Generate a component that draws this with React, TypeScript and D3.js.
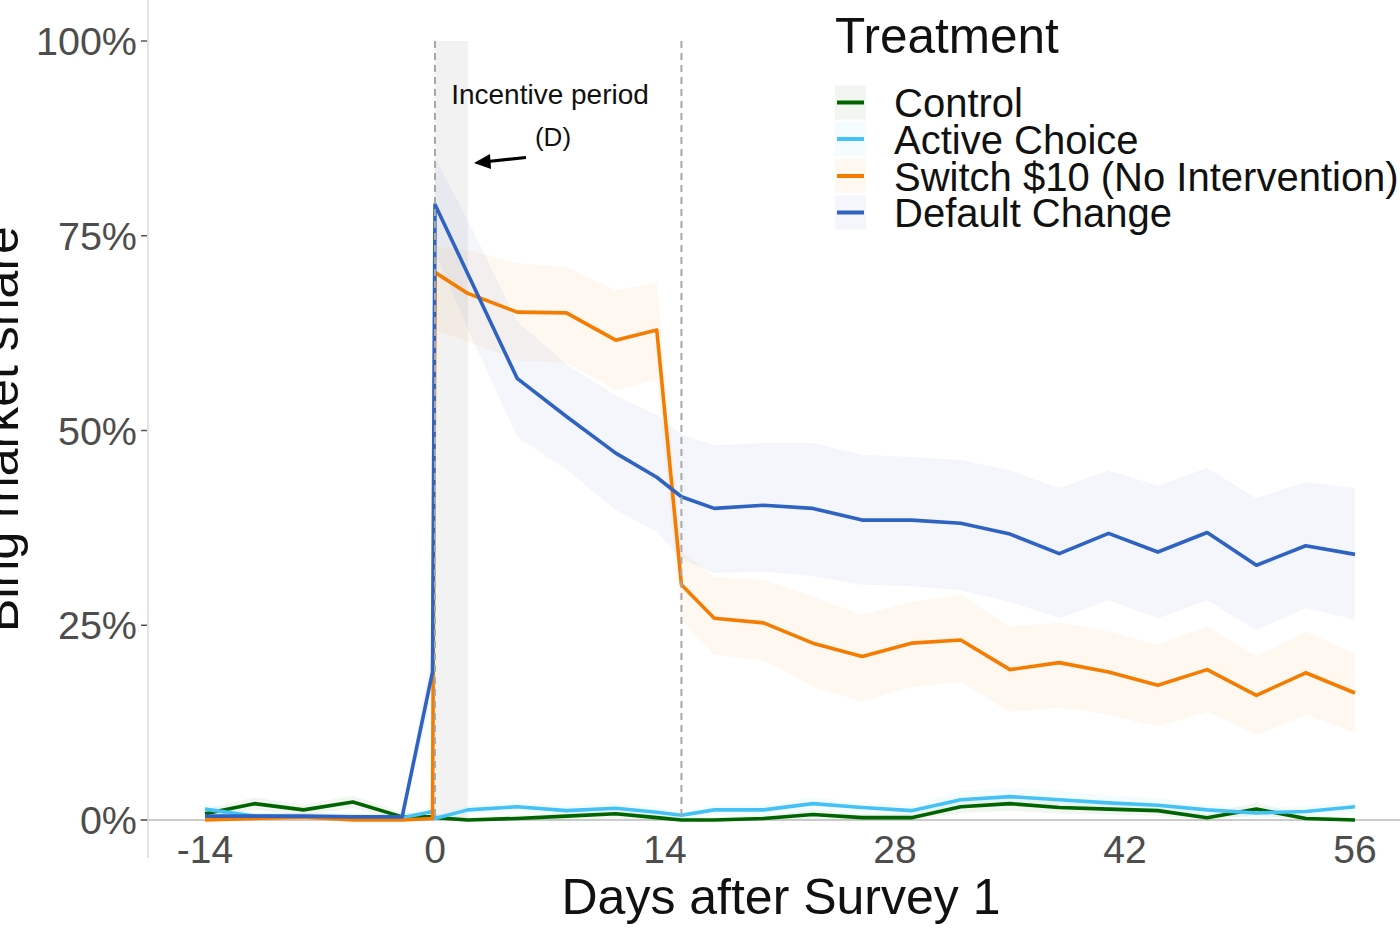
import React from "react";
import * as d3 from "d3";

// ---- data (share of Bing, %) ----
const days = [-14, -11, -8, -5, -2, -0.15, 0, 2, 5, 8, 11, 13.5, 15, 17, 20, 23, 26, 29, 32, 35, 38, 41, 44, 47, 50, 53, 56];

const controlMean = [0.8, 2.1, 1.3, 2.3, 0.4, 0.4, 0.3, 0.0, 0.2, 0.5, 0.8, 0.3, 0.0, 0.0, 0.2, 0.7, 0.3, 0.3, 1.7, 2.1, 1.6, 1.4, 1.2, 0.3, 1.4, 0.2, 0.0];
const controlLow = [0.2, 1.3, 0.6, 1.5, 0.0, 0.0, 0.0, 0.0, 0.0, 0.0, 0.2, 0.0, 0.0, 0.0, 0.0, 0.1, 0.0, 0.0, 0.9, 1.2, 0.8, 0.7, 0.5, 0.0, 0.6, 0.0, 0.0];
const controlHigh = [1.4, 2.9, 2.0, 3.1, 0.9, 0.9, 0.8, 0.4, 0.6, 1.0, 1.4, 0.8, 0.4, 0.4, 0.6, 1.3, 0.8, 0.8, 2.5, 3.0, 2.4, 2.1, 1.9, 0.8, 2.2, 0.6, 0.4];

const activeMean = [1.4, 0.5, 0.4, 0.3, 0.3, 1.1, 0.2, 1.3, 1.7, 1.2, 1.5, 1.0, 0.6, 1.3, 1.3, 2.1, 1.6, 1.2, 2.6, 3.0, 2.6, 2.2, 1.9, 1.3, 0.9, 1.1, 1.7];
const activeLow = [0.8, 0.1, 0.0, 0.0, 0.0, 0.5, 0.0, 0.7, 1.0, 0.6, 0.8, 0.4, 0.1, 0.6, 0.6, 1.3, 0.9, 0.5, 1.5, 1.8, 1.5, 1.2, 1.0, 0.6, 0.3, 0.4, 0.9];
const activeHigh = [2.0, 1.0, 0.9, 0.8, 0.8, 1.7, 0.7, 1.9, 2.4, 1.8, 2.2, 1.6, 1.1, 2.0, 2.0, 2.9, 2.3, 1.9, 3.7, 4.2, 3.7, 3.2, 2.8, 2.0, 1.5, 1.8, 2.5];

const switchMean = [0.0, 0.2, 0.4, 0.0, 0.0, 0.2, 70.3, 67.6, 65.2, 65.1, 61.6, 62.9, 30.2, 25.9, 25.3, 22.7, 21.0, 22.7, 23.1, 19.3, 20.2, 19.0, 17.3, 19.3, 16.0, 18.9, 16.3];
const switchLow = [0.0, 0.0, 0.0, 0.0, 0.0, 0.0, 62.9, 61.4, 59.0, 58.7, 55.2, 56.5, 25.5, 21.2, 20.5, 17.1, 15.2, 17.1, 17.7, 13.9, 14.4, 13.5, 12.0, 13.9, 10.9, 13.5, 11.2];
const switchHigh = [0.4, 0.6, 0.9, 0.4, 0.4, 0.6, 73.6, 73.2, 71.5, 71.0, 68.0, 69.0, 34.5, 31.2, 30.8, 28.7, 26.3, 28.0, 28.9, 24.8, 25.4, 24.2, 22.5, 24.8, 21.0, 24.2, 21.4];

const defaultMean = [0.5, 0.5, 0.5, 0.4, 0.4, 19.0, 79.0, 70.1, 56.7, 51.8, 47.1, 44.0, 41.5, 40.0, 40.4, 40.0, 38.5, 38.5, 38.1, 36.7, 34.2, 36.8, 34.4, 36.9, 32.7, 35.2, 34.1];
const defaultLow = [0.1, 0.1, 0.1, 0.0, 0.0, 16.0, 73.0, 63.0, 49.2, 45.0, 39.8, 37.0, 33.5, 31.7, 31.9, 31.3, 30.2, 30.0, 29.5, 28.0, 25.9, 28.2, 25.9, 28.2, 24.4, 27.2, 25.7];
const defaultHigh = [0.9, 0.9, 0.9, 0.8, 0.8, 22.0, 85.0, 77.0, 64.0, 58.5, 54.5, 52.0, 49.5, 48.1, 48.4, 48.4, 46.9, 46.6, 46.2, 44.9, 42.6, 44.9, 42.9, 45.2, 41.3, 43.4, 42.6];

const seriesNames = ["Control", "Active Choice", "Switch $10 (No Intervention)", "Default Change"];
const seriesColors = ["#006400", "#45c2f5", "#f47c00", "#2f63c2"];

const xTicks = [-14, 0, 14, 28, 42, 56];
const yTicks = [0, 25, 50, 75, 100];
const markerDays = [0, 15];
const incentiveDays = [0, 2];

const FONT = "'Liberation Sans', Arial, Helvetica, sans-serif";

export default function App() {
  const W = 1400;
  const H = 933;
  const x = d3.scaleLinear().domain([-14, 56]).range([205, 1355]);
  const y = d3.scaleLinear().domain([0, 100]).range([820, 41]);

  const means = [controlMean, activeMean, switchMean, defaultMean];
  const lows = [controlLow, activeLow, switchLow, defaultLow];
  const highs = [controlHigh, activeHigh, switchHigh, defaultHigh];

  const line = d3
    .line<number>()
    .x((_, i) => x(days[i]))
    .y((d) => y(d));

  const areaFor = (lo: number[], hi: number[]) =>
    d3
      .area<number>()
      .x((_, i) => x(days[i]))
      .y0((_, i) => y(lo[i]))
      .y1((_, i) => y(hi[i]))(lo) || "";

  const plotLeft = 148;
  const legendX = 835;
  const legendRowY = [102.5, 139, 176, 212.5];

  return (
    <svg
      width={W}
      height={H}
      style={{ position: "absolute", left: 0, top: 0, background: "#fff" }}
      fontFamily={FONT}
    >
      <rect x={0} y={0} width={W} height={H} fill="#fff" />

      {/* incentive period shading */}
      <rect
        x={x(incentiveDays[0])}
        y={y(100)}
        width={x(incentiveDays[1]) - x(incentiveDays[0])}
        height={y(0) - y(100)}
        fill="#f2f2f2"
      />

      {/* axes lines */}
      <line x1={plotLeft} x2={plotLeft} y1={0} y2={858} stroke="#e3e3e3" strokeWidth={2} />
      <line x1={140} x2={W} y1={y(0)} y2={y(0)} stroke="#cccccc" strokeWidth={2} />

      {/* ribbons */}
      {means.map((_, k) => (
        <path key={"rb" + k} d={areaFor(lows[k], highs[k])} fill={seriesColors[k]} fillOpacity={0.055} />
      ))}

      {/* lines */}
      {means.map((m, k) => (
        <path
          key={"ln" + k}
          d={line(m) || ""}
          fill="none"
          stroke={seriesColors[k]}
          strokeWidth={3.6}
          strokeLinejoin="round"
        />
      ))}

      {/* dashed markers */}
      {markerDays.map((d) => (
        <line
          key={"mk" + d}
          x1={x(d)}
          x2={x(d)}
          y1={y(100)}
          y2={y(0)}
          stroke="#a8a8a8"
          strokeWidth={2}
          strokeDasharray="7 5"
        />
      ))}

      {/* y ticks */}
      {yTicks.map((t) => (
        <g key={"yt" + t}>
          <line x1={141} x2={147} y1={y(t)} y2={y(t)} stroke="#555" strokeWidth={1.5} />
          <text x={137} y={y(t)} dy="0.36em" textAnchor="end" fontSize={39.5} fill="#4d4d4d">
            {t + "%"}
          </text>
        </g>
      ))}

      {/* x ticks */}
      {xTicks.map((t) => (
        <text key={"xt" + t} x={x(t)} y={863} textAnchor="middle" fontSize={39} fill="#4d4d4d">
          {t}
        </text>
      ))}

      {/* axis titles */}
      <text x={781} y={914} textAnchor="middle" fontSize={50} fill="#111">
        Days after Survey 1
      </text>
      <text
        transform={`translate(18, 429) rotate(-90)`}
        textAnchor="middle"
        fontSize={50}
        fill="#111"
      >
        Bing market share
      </text>

      {/* annotation */}
      <text x={550} y={104} textAnchor="middle" fontSize={28} fill="#111">
        Incentive period
      </text>
      <text x={553} y={146} textAnchor="middle" fontSize={26} fill="#111">
        (D)
      </text>
      <line x1={526} y1={157.5} x2={488} y2={161.5} stroke="#000" strokeWidth={3.2} />
      <path d="M 474 163 L 490 154 L 491 169 Z" fill="#000" />

      {/* legend */}
      <text x={legendX} y={53} fontSize={49.5} fill="#111">
        Treatment
      </text>
      {seriesNames.map((name, k) => (
        <g key={"lg" + k}>
          <rect
            x={legendX}
            y={legendRowY[k] - 17}
            width={31}
            height={34}
            fill={seriesColors[k]}
            fillOpacity={0.055}
          />
          <line
            x1={legendX + 2}
            x2={legendX + 29}
            y1={legendRowY[k]}
            y2={legendRowY[k]}
            stroke={seriesColors[k]}
            strokeWidth={4}
          />
          <text x={894} y={legendRowY[k] + 14.5} fontSize={40} fill="#111">
            {name}
          </text>
        </g>
      ))}
    </svg>
  );
}
